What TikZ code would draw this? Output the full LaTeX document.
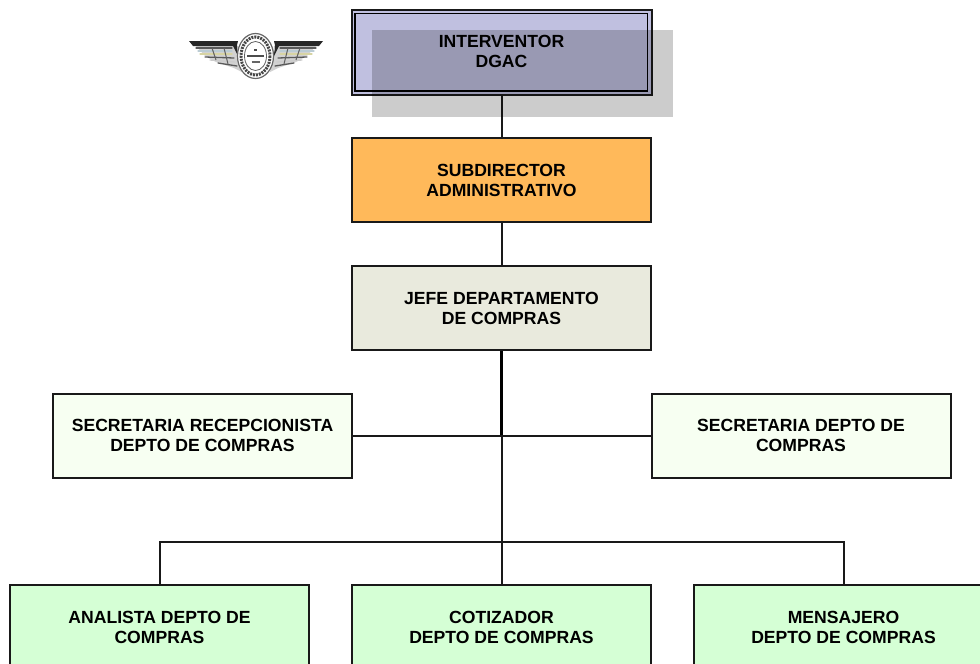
\documentclass[tikz,border=0pt]{standalone}
\usepackage{fontspec}
\setmainfont{Liberation Sans}
\definecolor{lav}{HTML}{C0C0E0}
\definecolor{orangebox}{HTML}{FFB95A}
\definecolor{jefebox}{HTML}{E9EADD}
\definecolor{secbox}{HTML}{F7FFF2}
\definecolor{greenbox}{HTML}{D5FFD5}
\tikzset{
  orgfont/.style={font=\fontsize{17.6pt}{20pt}\selectfont\bfseries},
  orgbox/.style={draw=black!90,line width=2pt,minimum width=299pt,minimum height=84pt,inner sep=0pt,align=center,
    orgfont,anchor=center},
  conn/.style={draw=black!90,line width=2pt},
  connthick/.style={draw=black,line width=3pt},
  feather/.style={line width=1.3pt,line cap=round},
}
\begin{document}
\begin{tikzpicture}[x=1pt,y=-1pt]
\useasboundingbox (0,0) rectangle (980,664);
\clip (0,0) rectangle (980,664);
\node[orgbox,fill=lav,minimum width=300pt,minimum height=85pt] (int) at (501.5,52.5) {};
\draw[line width=1.6pt,black] (355,13.5) rectangle (647.5,91);
\node[orgbox,fill=orangebox] (sub) at (501.5,180) {SUBDIRECTOR\\ADMINISTRATIVO};
\node[orgbox,fill=jefebox] (jefe) at (501.5,308) {JEFE DEPARTAMENTO\\DE COMPRAS};
\node[orgbox,fill=secbox] (sl) at (202.5,435.5) {SECRETARIA RECEPCIONISTA\\DEPTO DE COMPRAS};
\node[orgbox,fill=secbox] (sr) at (801,435.5) {SECRETARIA DEPTO DE\\COMPRAS};
\node[orgbox,fill=greenbox] (an) at (159.5,627) {ANALISTA DEPTO DE\\COMPRAS};
\node[orgbox,fill=greenbox] (cot) at (501.5,627) {COTIZADOR\\DEPTO DE COMPRAS};
\node[orgbox,fill=greenbox] (men) at (843.5,627) {MENSAJERO\\DEPTO DE COMPRAS};
\coordinate (j) at (sub.south |- sl.east);
\coordinate (bus) at (cot.north |- 0,542);
\draw[conn] (int.south) -- (sub.north);
\draw[conn] (sub.south) -- (jefe.north);
\draw[connthick] (jefe.south) -- (j);
\draw[conn] (j) -- (cot.north);
\draw[conn] (sl.east) -- (sr.west);
\draw[conn] (an.north) -- (an.north |- bus) -- (men.north |- bus) -- (men.north);
% shadow over the top box
\fill[black,opacity=0.2] (372,30) rectangle (673,117);
\node[orgfont,align=center,inner sep=0pt] (intt) at (501.5,51.5) {INTERVENTOR\\DGAC};
% logo: wings mirrored about x=256
\foreach \m/\o in {1/0,-1/512}{
\begin{scope}[shift={(\o,0)},xscale=\m]
  \fill[gray!35] (196,46) -- (238,46) -- (242,72) -- (234,68) -- (216,62) -- (205,56) -- cycle;
  \fill[black!85] (189,41) -- (238,41) .. controls (236,46) and (237,52) .. (240,60) -- (233,46) -- (193,46) -- cycle;
  \draw[gray!70!black,feather] (196,48) -- (232,48);
  \draw[cyan!25!gray!50,feather] (198,51) -- (232,51);
  \draw[yellow!40!gray!60,feather] (200,54) -- (232,54);
  \draw[gray!70!black,feather] (205,57) -- (234,58);
  \draw[gray!40,feather] (210,60) -- (235,62);
  \draw[gray!70!black,feather] (218,63) -- (237,66);
  \draw[gray!75!black,line width=1pt] (212,48) -- (216,60);
  \draw[gray!75!black,line width=1pt] (224,48) -- (228,64);
\end{scope}}
\draw[gray!80!black,line width=1.2pt,fill=white] (255.5,56) ellipse (18 and 22.5);
\draw[gray!55!black,line width=3pt,dash pattern=on 2pt off 1pt] (255.5,56) ellipse (14.5 and 19);
\draw[gray!75!black,line width=.8pt] (255.5,56) ellipse (11 and 14.5);
\draw[black!70,line width=1.6pt] (247,56) -- (264,56);
\draw[black!70,line width=1.2pt] (254,50) -- (257,50);
\draw[black!60,line width=1.2pt] (251.5,62) -- (259.5,62);
\end{tikzpicture}
\end{document}
